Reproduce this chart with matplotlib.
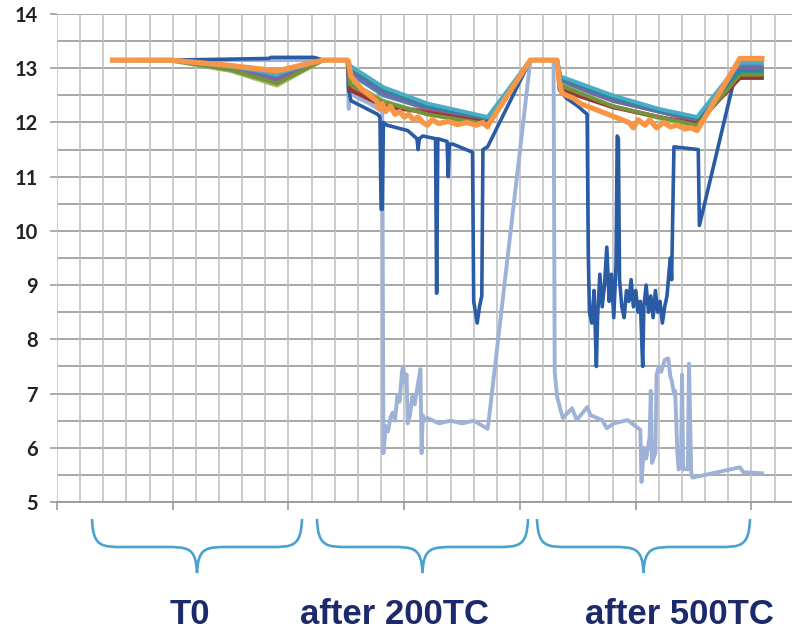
import matplotlib
matplotlib.use("Agg")
import matplotlib.pyplot as plt
from matplotlib.path import Path
from matplotlib.patches import PathPatch

# common x positions (sample index) for the bundle of "normal" curves
x_bundle = [48, 98, 150, 190, 230, 251, 253, 282, 320, 372, 409, 432, 435, 480, 520, 553, 590, 609]

blue      = [13.15, 13.15, 13.00, 12.82, 13.15, 13.15, 12.90, 12.50, 12.25, 12.05, 13.15, 13.15, 12.75, 12.40, 12.20, 12.05, 13.05, 13.05]
red       = [13.15, 13.15, 13.05, 12.90, 13.15, 13.15, 12.62, 12.33, 12.20, 12.00, 13.15, 13.15, 12.62, 12.30, 12.10, 11.95, 12.90, 12.90]
green     = [13.15, 13.14, 12.95, 12.68, 13.15, 13.15, 12.75, 12.40, 12.15, 11.95, 13.15, 13.15, 12.70, 12.30, 12.08, 11.92, 12.95, 12.95]
purple    = [13.15, 13.15, 12.98, 12.78, 13.15, 13.15, 12.97, 12.55, 12.28, 12.05, 13.15, 13.15, 12.80, 12.40, 12.20, 12.02, 13.00, 13.00]
aqua      = [13.15, 13.15, 13.03, 12.90, 13.15, 13.15, 13.05, 12.65, 12.35, 12.10, 13.15, 13.15, 12.85, 12.50, 12.25, 12.10, 13.10, 13.10]
darkred   = [13.15, 13.15, 13.05, 12.92, 13.15, 13.15, 12.60, 12.30, 12.18, 12.00, 13.15, 13.15, 12.60, 12.28, 12.10, 11.98, 12.82, 12.82]
darkgreen = [13.15, 13.15, 12.97, 12.72, 13.15, 13.15, 12.70, 12.38, 12.15, 11.97, 13.15, 13.15, 12.68, 12.30, 12.10, 11.95, 12.88, 12.88]
darkaqua  = [13.15, 13.15, 13.05, 12.93, 13.15, 13.15, 13.00, 12.60, 12.30, 12.08, 13.15, 13.15, 12.82, 12.45, 12.22, 12.08, 12.95, 12.95]

bundle = [
    (blue, "#4F81BD"), (red, "#C0504D"), (green, "#9BBB59"), (purple, "#8064A2"),
    (darkred, "#943634"), (darkgreen, "#76923C"), (darkaqua, "#31859C"), (aqua, "#4BACC6"),
]

# orange curve, sampled more densely (noisy)
x_orange = [48, 98, 150, 190, 230, 251, 252, 254, 258, 264, 270, 276, 279, 281, 284, 288, 292, 296, 300,
            304, 308, 312, 316, 320, 324, 330, 338, 346, 354, 362, 368, 372, 374, 409, 432, 434, 436, 440,
            446, 452, 458, 464, 470, 476, 482, 488, 494, 498, 502, 508, 512, 518, 524, 530, 536, 542, 548,
            553, 590, 609]
y_orange = [13.15, 13.15, 13.05, 12.95, 13.15, 13.15, 13.10, 12.85, 12.75, 12.60, 12.50, 12.40, 12.25, 12.35,
            12.20, 12.30, 12.15, 12.20, 12.10, 12.15, 12.05, 12.10, 12.00, 11.95, 12.05, 11.98, 12.02, 11.96,
            12.00, 11.95, 12.00, 11.92, 12.00, 13.15, 13.15, 12.75, 12.55, 12.50, 12.45, 12.35, 12.30, 12.25,
            12.20, 12.15, 12.10, 12.05, 12.00, 11.90, 12.05, 11.95, 12.05, 11.90, 12.00, 11.92, 11.95, 11.88,
            11.90, 11.85, 13.18, 13.18]

# dark blue outlier
x_dark = [48, 100, 183, 185, 222, 230, 251, 252, 254, 277, 279, 280, 281, 282, 285, 303, 311, 312, 313, 316,
          327, 328, 329, 337, 338, 339, 342, 359, 360, 363, 365, 367, 368, 372, 409, 432, 434, 440, 450, 458,
          459, 460, 462, 464, 466, 467, 469, 471, 473, 475, 477, 479, 481, 483, 484, 485, 486, 488, 490, 492,
          494, 496, 498, 500, 502, 504, 506, 507, 509, 511, 513, 515, 517, 519, 521, 523, 525, 527, 529, 530,
          531, 533, 554, 555, 584, 590, 609]
y_dark = [13.15, 13.15, 13.18, 13.20, 13.20, 13.15, 13.15, 12.60, 12.40, 12.15, 12.10, 10.40, 10.40, 12.00,
          11.95, 11.85, 11.70, 11.50, 11.70, 11.75, 11.70, 8.85, 11.70, 11.65, 11.00, 11.60, 11.60, 11.45,
          8.70, 8.30, 8.60, 8.80, 11.50, 11.55, 13.15, 13.15, 12.60, 12.45, 12.30, 12.15, 9.60, 8.50, 8.30,
          8.90, 7.50, 8.40, 9.20, 8.60, 9.00, 9.70, 8.70, 9.20, 8.40, 9.40, 11.75, 11.70, 9.10, 8.60, 8.40,
          8.90, 8.70, 9.10, 8.60, 8.90, 8.50, 8.70, 7.50, 8.60, 9.00, 8.50, 8.80, 8.40, 8.90, 8.50, 8.70,
          8.30, 8.60, 8.80, 9.30, 9.50, 9.10, 11.55, 11.50, 10.10, 12.70, 12.85, 12.85]

# light steel-blue outlier
x_light = [48, 230, 251, 252, 253, 260, 270, 281, 282, 284, 286, 288, 290, 292, 294, 296, 298, 299, 301, 302,
           303, 305, 307, 309, 312, 314, 315, 316, 318, 320, 330, 340, 350, 360, 368, 372, 373, 409, 429, 430,
           432, 435, 437, 445, 449, 458, 461, 471, 475, 481, 493, 504, 505, 507, 509, 512, 513, 514, 516, 517,
           518, 520, 522, 525, 528, 530, 531, 533, 534, 536, 537, 539, 540, 541, 544, 545, 546, 548, 549, 560,
           575, 590, 593, 609]
y_light = [13.15, 13.15, 13.15, 12.25, 12.55, 12.45, 12.35, 12.20, 5.90, 6.40, 6.30, 6.55, 6.65, 6.50, 6.95,
           6.85, 7.40, 7.50, 7.20, 7.35, 6.45, 6.60, 6.95, 6.80, 7.20, 7.45, 5.90, 6.60, 6.50, 6.55, 6.45,
           6.50, 6.45, 6.50, 6.40, 6.35, 6.50, 13.15, 13.15, 7.40, 6.95, 6.70, 6.55, 6.73, 6.51, 6.75, 6.60,
           6.51, 6.36, 6.45, 6.51, 6.33, 5.37, 6.00, 5.80, 6.20, 7.05, 5.72, 5.85, 5.90, 7.35, 7.50, 7.40,
           7.62, 7.65, 7.30, 7.25, 7.00, 7.05, 5.90, 5.60, 5.65, 7.35, 5.60, 5.62, 5.60, 7.55, 5.50, 5.45,
           5.50, 5.57, 5.64, 5.55, 5.53]

group_labels = ["T0", "after 200TC", "after 500TC"]

fig = plt.figure(figsize=(7.92, 6.33), dpi=100)
ax = fig.add_axes([57 / 792, 1 - 502 / 633, 735 / 792, 488 / 633])

ax.set_xlim(0, 635)
ax.set_ylim(5, 14)

# grid: horizontal every 0.5, vertical every 20
for yv in [5 + 0.5 * i for i in range(19)]:
    ax.axhline(yv, color="#a0a0a0", lw=1.3, zorder=0)
for xv in range(0, 635, 20):
    ax.axvline(xv, color="#c2c2c2", lw=1.2, zorder=0)

ax.plot(x_light, y_light, color="#9DB2D6", lw=2.8, zorder=2)
ax.plot(x_dark, y_dark, color="#2A5BA5", lw=2.6, zorder=3)
for vals, col in bundle:
    ax.plot(x_bundle, vals, color=col, lw=2.8, zorder=4)
ax.plot(x_orange, y_orange, color="#F79646", lw=3.8, zorder=5)

for s in ["top", "right", "left"]:
    ax.spines[s].set_visible(False)
ax.spines["bottom"].set_color("#999999")
ax.spines["bottom"].set_linewidth(1.3)

ax.set_xticks(range(0, 700, 100))
ax.set_xticklabels([])
ax.tick_params(axis="x", length=6, width=1.2, color="#999999")
ax.set_yticks(range(5, 15))
ax.tick_params(axis="y", length=5, width=1.2, color="#a0a0a0", pad=9)
for lab in ax.get_yticklabels():
    lab.set_fontfamily("Lato")
    lab.set_fontweight("bold")
    lab.set_fontsize(14.5)
    lab.set_color("#222222")

# overlay in pixel coordinates for braces and group labels
ov = fig.add_axes([0, 0, 1, 1], facecolor="none")
ov.set_xlim(0, 792)
ov.set_ylim(633, 0)
ov.axis("off")


def brace(x1, x2, top, mid, tip, r=32):
    xc = (x1 + x2) / 2
    verts = [
        (x1, top), (x1 + 1, mid), (x1 + r * 0.3, mid), (x1 + r, mid),
        (xc - r, mid),
        (xc - r * 0.3, mid), (xc - 1, mid), (xc, tip),
        (xc + 1, mid), (xc + r * 0.3, mid), (xc + r, mid),
        (x2 - r, mid),
        (x2 - r * 0.3, mid), (x2 - 1, mid), (x2, top),
    ]
    codes = [Path.MOVETO, Path.CURVE4, Path.CURVE4, Path.CURVE4, Path.LINETO,
             Path.CURVE4, Path.CURVE4, Path.CURVE4,
             Path.CURVE4, Path.CURVE4, Path.CURVE4, Path.LINETO,
             Path.CURVE4, Path.CURVE4, Path.CURVE4]
    ov.add_patch(PathPatch(Path(verts, codes), fill=False, edgecolor="#4AA3CF", lw=1.9))


brace(92, 302, 519, 547, 573)
brace(317, 528, 519, 547, 573)
brace(537, 750, 519, 547, 573)

for lab, cx in zip(group_labels, [190, 394, 679]):
    ov.text(cx, 614, lab, ha="center", va="center", fontsize=25, fontweight="bold",
            family="Liberation Sans", color="#1C2A6C")

fig.savefig("out.png", dpi=100)
